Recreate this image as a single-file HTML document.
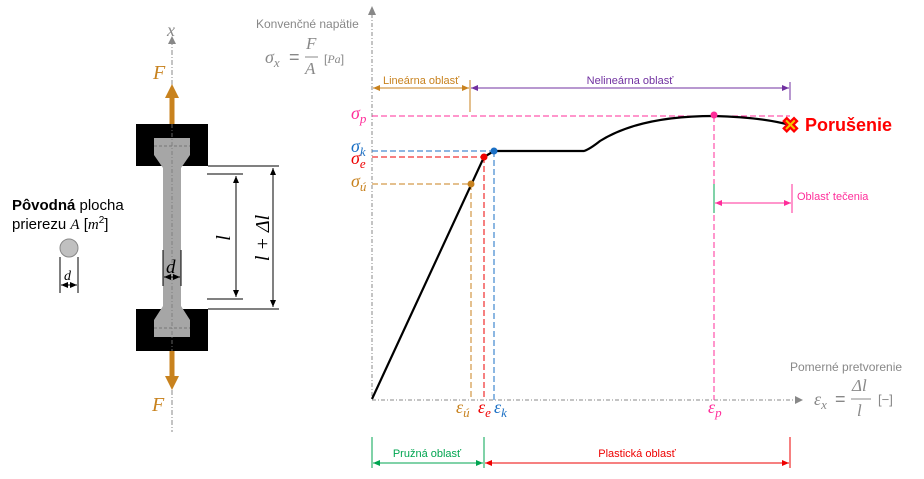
<!DOCTYPE html>
<html><head><meta charset="utf-8"><style>
body{margin:0;background:#fff}
svg{display:block}
text{font-family:"Liberation Sans",sans-serif}
.m{font-family:"Liberation Serif",serif;font-style:italic}
</style></head><body>
<svg width="924" height="479" viewBox="0 0 924 479" xmlns="http://www.w3.org/2000/svg">
<defs>
<marker id="ah" markerWidth="8" markerHeight="8" refX="7" refY="4" orient="auto-start-reverse" markerUnits="userSpaceOnUse"><path d="M0,1 L7,4 L0,7z" fill="context-stroke"/></marker>
</defs>
<line x1="172" y1="40" x2="172" y2="432" stroke="#888" stroke-width="1" stroke-dasharray="5,2,1,2"/>
<path d="M168,44 L176,44 L172,36z" fill="#888"/>
<text x="167" y="36" class="m" font-size="18" fill="#888">x</text>
<rect x="169.5" y="96" width="5" height="30" fill="#c8821e"/>
<path d="M165,98 L179,98 L172,84z" fill="#c8821e"/>
<rect x="169.5" y="350" width="5" height="28" fill="#c8821e"/>
<path d="M165,376 L179,376 L172,390z" fill="#c8821e"/>
<text x="153" y="79" class="m" font-size="20" fill="#c8821e">F</text>
<text x="152" y="411" class="m" font-size="20" fill="#c8821e">F</text>
<rect x="136" y="124" width="72" height="42" fill="#000"/>
<rect x="136" y="309" width="72" height="42" fill="#000"/>
<path d="M154,138 L190,138 L190,155 L181,168 L181,306 L190,320 L190,337 L154,337 L154,320 L163,306 L163,168 L154,155z" fill="#a6a6a6"/>
<line x1="154" y1="146" x2="190" y2="146" stroke="#777" stroke-dasharray="3,2"/>
<line x1="154" y1="328" x2="190" y2="328" stroke="#777" stroke-dasharray="3,2"/>
<line x1="172" y1="124" x2="172" y2="351" stroke="#777" stroke-width="0.8" stroke-dasharray="4,2,1,2"/>
<line x1="208" y1="166" x2="279" y2="166" stroke="#000"/>
<line x1="208" y1="309" x2="279" y2="309" stroke="#000"/>
<line x1="207" y1="174" x2="243" y2="174" stroke="#000"/>
<line x1="207" y1="299" x2="243" y2="299" stroke="#000"/>
<line x1="236" y1="176" x2="236" y2="297" stroke="#000" marker-start="url(#ah)" marker-end="url(#ah)"/>
<line x1="273" y1="168" x2="273" y2="307" stroke="#000" marker-start="url(#ah)" marker-end="url(#ah)"/>
<text class="m" font-size="20" transform="translate(230,238) rotate(-90)" text-anchor="middle">l</text>
<text class="m" font-size="20" transform="translate(269,238) rotate(-90)" text-anchor="middle">l + Δl</text>
<line x1="163" y1="250" x2="163" y2="286" stroke="#000"/>
<line x1="181" y1="250" x2="181" y2="286" stroke="#000"/>
<line x1="164" y1="277" x2="180" y2="277" stroke="#000" marker-start="url(#ah)" marker-end="url(#ah)"/>
<text x="166" y="273" class="m" font-size="19">d</text>
<text x="12" y="210" font-size="15"><tspan font-weight="bold">Pôvodná</tspan> plocha</text>
<text x="12" y="229" font-size="15">prierezu <tspan class="m">A</tspan> [<tspan class="m">m</tspan><tspan font-size="10" dy="-6">2</tspan><tspan dy="6">]</tspan></text>
<circle cx="69" cy="248" r="9" fill="#c0c0c0" stroke="#888"/>
<line x1="60" y1="257" x2="60" y2="293" stroke="#000"/>
<line x1="78" y1="257" x2="78" y2="293" stroke="#000"/>
<line x1="61" y1="285" x2="77" y2="285" stroke="#000" marker-start="url(#ah)" marker-end="url(#ah)"/>
<text x="64" y="280" class="m" font-size="14">d</text>

<line x1="372" y1="14" x2="372" y2="400" stroke="#888" stroke-dasharray="4,2,1,2"/>
<path d="M368,15 L376,15 L372,6z" fill="#888"/>
<line x1="372" y1="400" x2="796" y2="400" stroke="#888" stroke-dasharray="4,2,1,2"/>
<path d="M795,396 L795,404 L803,400z" fill="#888"/>
<text x="256" y="28" font-size="12" fill="#888">Konvenčné napätie</text>
<text x="265" y="63" class="m" font-size="18" fill="#888">σ<tspan font-size="13" dy="4">x</tspan></text>
<text x="289" y="63" font-size="18" fill="#888">=</text>
<text x="306" y="49" class="m" font-size="17" fill="#888">F</text>
<line x1="305" y1="57" x2="318" y2="57" stroke="#888"/>
<text x="305" y="74" class="m" font-size="17" fill="#888">A</text>
<text x="324" y="63" font-size="12" fill="#888">[<tspan class="m">Pa</tspan>]</text>
<text x="790" y="371" font-size="12" fill="#888">Pomerné pretvorenie</text>
<text x="814" y="405" class="m" font-size="18" fill="#888">ε<tspan font-size="13" dy="4">x</tspan></text>
<text x="835" y="405" font-size="18" fill="#888">=</text>
<text x="852" y="391" class="m" font-size="17" fill="#888">Δl</text>
<line x1="851" y1="399" x2="871" y2="399" stroke="#888"/>
<text x="857" y="416" class="m" font-size="17" fill="#888">l</text>
<text x="878" y="404" font-size="13" fill="#888">[−]</text>

<g stroke-width="1" stroke-dasharray="6,3" fill="none">
<line x1="372" y1="116" x2="790" y2="116" stroke="#ff2d9a"/>
<line x1="714" y1="116" x2="714" y2="400" stroke="#ff2d9a"/>
<line x1="372" y1="151" x2="494" y2="151" stroke="#1a6fc4"/>
<line x1="494" y1="151" x2="494" y2="400" stroke="#1a6fc4"/>
<line x1="372" y1="157" x2="484" y2="157" stroke="#e00"/>
<line x1="484" y1="157" x2="484" y2="400" stroke="#e00"/>
<line x1="372" y1="184" x2="471" y2="184" stroke="#c8821e"/>
<line x1="471" y1="184" x2="471" y2="400" stroke="#c8821e"/>
</g>
<path d="M372,399 L484,157 L494,151 L584,151 Q590,149 600,141 Q640,116 714,116 Q760,117 790,125" fill="none" stroke="#000" stroke-width="2.2"/>
<circle cx="471" cy="184" r="3.5" fill="#c8821e"/>
<circle cx="484" cy="157" r="3.5" fill="#e00"/>
<circle cx="494" cy="151" r="3.5" fill="#1a6fc4"/>
<circle cx="714" cy="115" r="3.5" fill="#ff2d9a"/>
<text x="782" y="132" font-size="20" font-weight="bold" fill="#f5c400" stroke="#f00" stroke-width="1.5">✖</text>
<text x="805" y="131" font-size="18" font-weight="bold" fill="#f00">Porušenie</text>
<text x="351" y="119" class="m" font-size="18" fill="#ff2d9a">σ<tspan font-size="13" dy="4">p</tspan></text>
<text x="351" y="152" class="m" font-size="18" fill="#1a6fc4">σ<tspan font-size="13" dy="4">k</tspan></text>
<text x="351" y="164" class="m" font-size="18" fill="#e00">σ<tspan font-size="13" dy="4">e</tspan></text>
<text x="351" y="187" class="m" font-size="18" fill="#c8821e">σ<tspan font-size="13" dy="4">ú</tspan></text>
<text x="456" y="413" class="m" font-size="18" fill="#c8821e">ε<tspan font-size="13" dy="4">ú</tspan></text>
<text x="478" y="413" class="m" font-size="18" fill="#e00">ε<tspan font-size="13" dy="4">e</tspan></text>
<text x="494" y="413" class="m" font-size="18" fill="#1a6fc4">ε<tspan font-size="13" dy="4">k</tspan></text>
<text x="708" y="413" class="m" font-size="18" fill="#ff2d9a">ε<tspan font-size="13" dy="4">p</tspan></text>
<line x1="470" y1="80" x2="470" y2="112" stroke="#c8821e"/>
<line x1="373" y1="88" x2="469" y2="88" stroke="#c8821e" marker-start="url(#ah)" marker-end="url(#ah)"/>
<text x="383" y="84" font-size="11" fill="#c8821e">Lineárna oblasť</text>
<line x1="790" y1="82" x2="790" y2="100" stroke="#7030a0"/>
<line x1="471" y1="88" x2="789" y2="88" stroke="#7030a0" marker-start="url(#ah)" marker-end="url(#ah)"/>
<text x="630" y="84" font-size="11" fill="#7030a0" text-anchor="middle">Nelineárna oblasť</text>
<line x1="714" y1="184" x2="714" y2="213" stroke="#00a550"/>
<line x1="792" y1="184" x2="792" y2="213" stroke="#ff2d9a"/>
<line x1="715" y1="203" x2="791" y2="203" stroke="#ff2d9a" marker-start="url(#ah)" marker-end="url(#ah)"/>
<text x="797" y="200" font-size="11" fill="#ff2d9a">Oblasť tečenia</text>
<line x1="372" y1="437" x2="372" y2="468" stroke="#00a550"/>
<line x1="484" y1="437" x2="484" y2="468" stroke="#00a550"/>
<line x1="790" y1="437" x2="790" y2="468" stroke="#e00"/>
<line x1="373" y1="463" x2="483" y2="463" stroke="#00a550" marker-start="url(#ah)" marker-end="url(#ah)"/>
<line x1="485" y1="463" x2="789" y2="463" stroke="#e00" marker-start="url(#ah)" marker-end="url(#ah)"/>
<text x="427" y="457" font-size="11" fill="#00a550" text-anchor="middle">Pružná oblasť</text>
<text x="637" y="457" font-size="11" fill="#e00" text-anchor="middle">Plastická oblasť</text>
</svg>
</body></html>
